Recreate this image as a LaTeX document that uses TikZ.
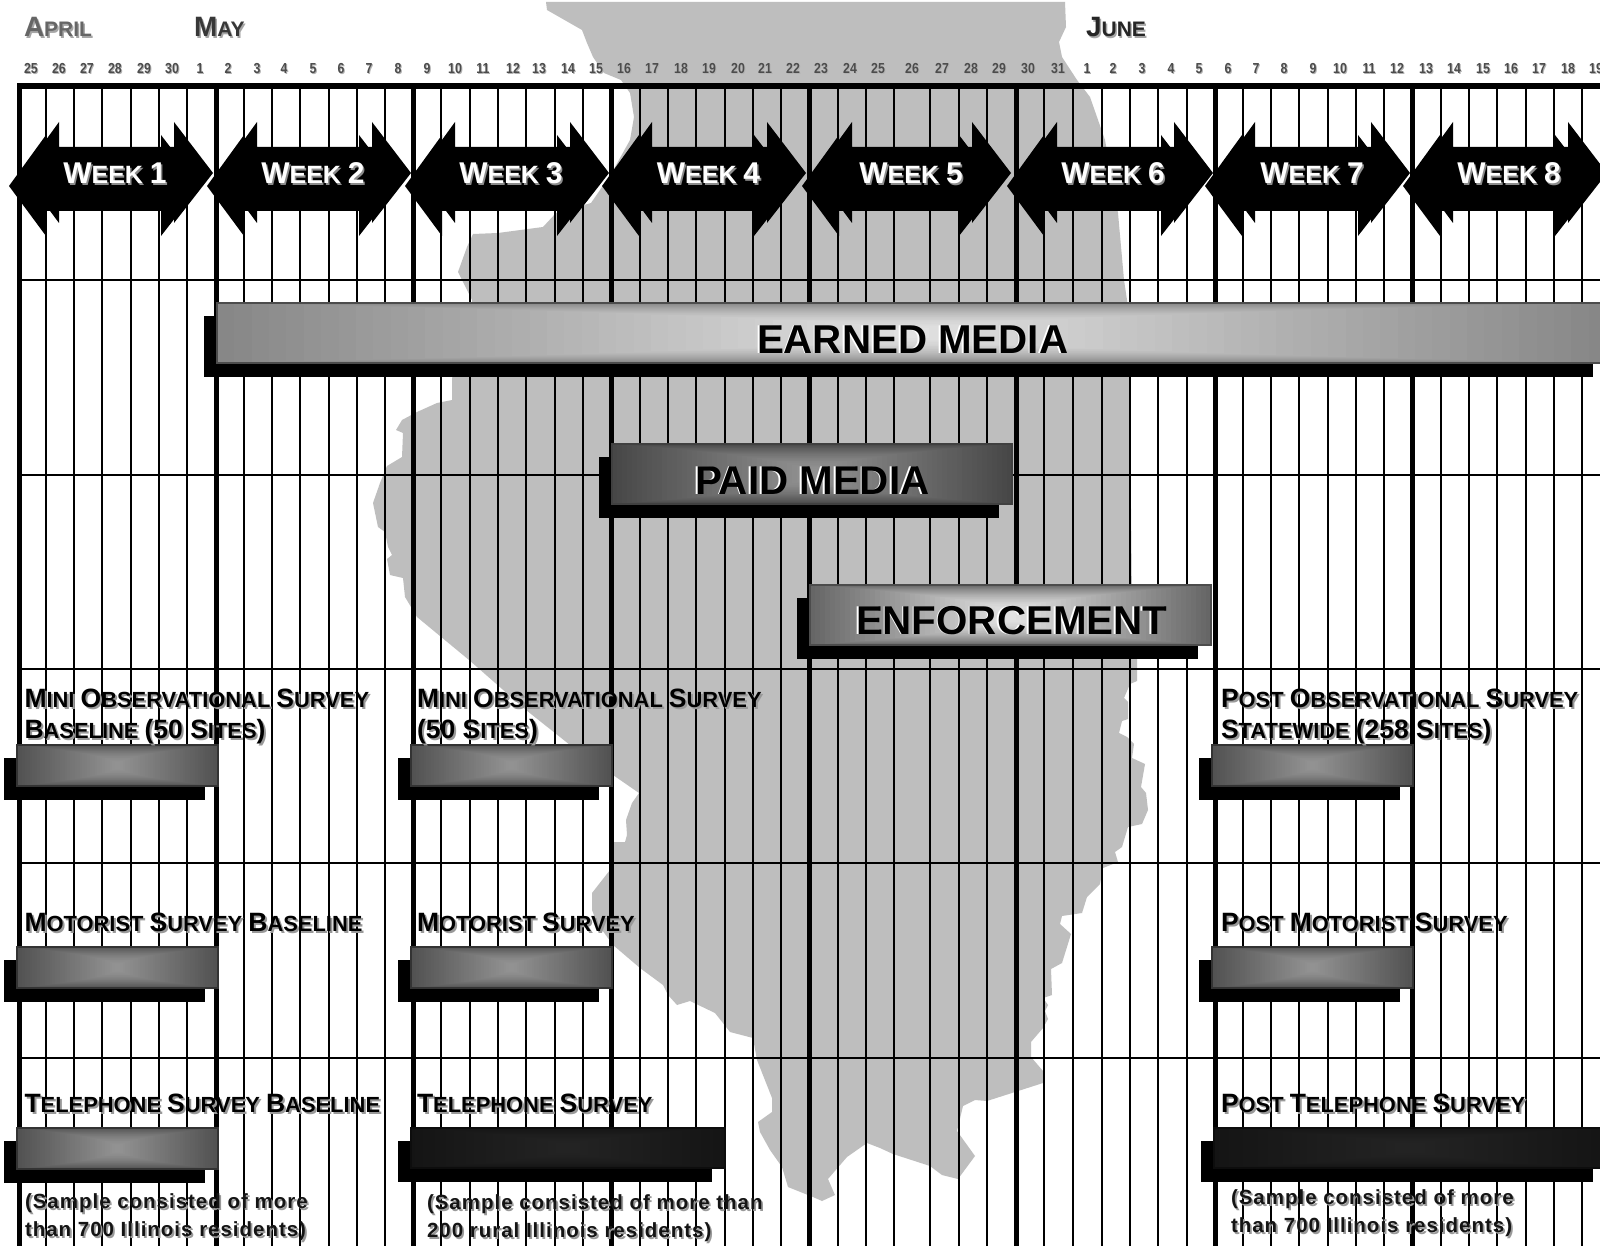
\documentclass[tikz,border=0pt]{standalone}
\usepackage{fontspec}
\setmainfont{Liberation Sans}
\newfontfamily\datefont[FakeStretch=0.85]{Liberation Sans Bold}
\definecolor{mapgray}{HTML}{BEBEBE}
\newcommand{\Ca}[1]{{\fontsize{26.5}{26}\selectfont #1}}
\newcommand{\Cb}[1]{{\fontsize{28}{28}\selectfont #1}}
\newcommand{\Cw}[1]{{\fontsize{30}{30}\selectfont #1}}
\tikzset{
  x=1pt,y=-1pt,
  thinline/.style={black,line width=1.8pt},
  thickline/.style={black,line width=5pt},
  base text/.style={anchor=base west,inner sep=0pt,outer sep=0pt},
  survey/.style={base text,font=\bfseries\fontsize{21.9}{26}\selectfont},
  sample/.style={base text,font=\bfseries\fontsize{20.5}{24}\selectfont\addfontfeature{LetterSpace=4.8}},
  month/.style={base text,font=\bfseries\fontsize{21}{28}\selectfont},
  weeklabel/.style={anchor=base,inner sep=0pt,font=\bfseries\fontsize{25}{30}\selectfont},
  headline/.style={base text,font=\bfseries\fontsize{40.3}{44}\selectfont},
  datelabel/.style={anchor=base,inner sep=0pt,font=\datefont\fontsize{14.5}{16}\selectfont},
}
% gradient bar with contours that run from the centre to the rim
\newcommand{\gbar}[6]{%
  \colorlet{gout}{#5}\colorlet{gin}{#6}%
  \foreach \gi in {0,...,40}{%
    \pgfmathsetmacro\gt{1-\gi/40}%
    \pgfmathsetmacro\gp{100*\gi/40}%
    \pgfmathsetmacro\gcx{(#1+#3)/2}%
    \pgfmathsetmacro\gcy{(#2+#4)/2}%
    \pgfmathsetmacro\ghw{(#3-#1)/2*\gt}%
    \pgfmathsetmacro\ghh{(#4-#2)/2*sqrt(\gt)}%
    \fill[gin!\gp!gout] (\gcx-\ghw,\gcy-\ghh) rectangle (\gcx+\ghw,\gcy+\ghh);
  }%
}
% shadow then bar: x1 y1 x2 y2 outer inner edge
\newcommand{\sbar}[7]{%
  \fill[black] ({#1-13.5},{#2+13}) rectangle ({#3-13.5},{#4+14});
  \gbar{#1}{#2}{#3}{#4}{#5}{#6}
  \draw[#7,line width=1.2pt] (#1,#2) rectangle (#3,#4);
}
\newcommand{\slab}[4]{% name, x, y, text
  \node[survey,text=black!40] (#1s) at ({#2+2},{#3+2.2}) {#4};
  \node[survey,text=black] (#1) at (#2,#3) {#4};
}
\newcommand{\tlab}[4]{%
  \node[sample,text=black!40] (#1s) at ({#2+1.8},{#3+2}) {#4};
  \node[sample,text=black!92] (#1) at (#2,#3) {#4};
}
\newcommand{\hlab}[4]{%
  \node[headline,text=white] (#1s) at ({#2-1.6},{#3+0.6}) {#4};
  \node[headline,text=black] (#1) at (#2,#3) {#4};
}
\newcommand{\mlab}[5]{% name x y textcolour text
  \node[month,text=black!35] (#1s) at ({#2+1.5},{#3+1.5}) {#5};
  \node[month,text=#4] (#1) at (#2,#3) {#5};
}
\begin{document}
\begin{tikzpicture}
\useasboundingbox (0,0) rectangle (1600,1246);
\clip (0,0) rectangle (1600,1246);
\fill[white] (0,0) rectangle (1600,1246);
% state map
\fill[mapgray] (546,2) -- (547,10) -- (582,30) -- (587,43) -- (593,57) -- (604,73) -- (621,80) -- (630,93) -- (634,117) -- (630,140) -- (615,167) -- (600,190) -- (591,203) -- (556,213) -- (543,227) -- (498,233) -- (473,234) -- (467,247) -- (458,272) -- (463,282) -- (472,300) -- (475,340)
 -- (452,378) -- (452,400) -- (437,403) -- (417,412) -- (402,420) -- (396,430) -- (403,433) -- (402,457) -- (387,466) -- (380,483) -- (373,503) -- (378,527) -- (385,532) -- (388,547) -- (392,555) -- (387,559) -- (390,575) -- (403,578) -- (405,597) -- (417,617) -- (469,660) -- (526,710) -- (570,745)
 -- (613,775) -- (639,793) -- (632,803) -- (626,820) -- (627,835) -- (625,842) -- (614,842) -- (610,870) -- (592,893) -- (592,910) -- (597,923) -- (613,945) -- (640,968) -- (663,985) -- (668,995) -- (677,1005) -- (690,1001) -- (715,1013) -- (730,1032) -- (753,1038) -- (757,1060) -- (772,1098) -- (772,1112) -- (758,1122) -- (760,1132) -- (770,1150) -- (782,1167) -- (788,1187) -- (813,1197) -- (822,1201) -- (835,1195) -- (828,1179) -- (847,1157) -- (867,1143) -- (880,1148) -- (893,1154) -- (930,1166) -- (942,1175) -- (958,1179)
 -- (975,1156) -- (957,1131) -- (963,1106) -- (975,1100) -- (987,1101) -- (1043,1083) -- (1043,1071) -- (1031,1057) -- (1031,1042) -- (1043,1028) -- (1048,1019) -- (1045,1011) -- (1048,1005) -- (1043,998) -- (1052,995) -- (1051,969) -- (1062,963) -- (1071,934) -- (1060,924) -- (1062,916) -- (1082,913) -- (1087,897) -- (1100,884) -- (1103,868) -- (1118,862) -- (1115,852) -- (1122,847) -- (1128,827) -- (1142,824) -- (1148,810) -- (1146,793) -- (1141,787) -- (1145,764) -- (1132,758) -- (1134,744) -- (1127,737) -- (1119,733) -- (1122,721) -- (1128,719) -- (1128,702) -- (1124,698) -- (1130,684) -- (1137,681) -- (1137,659) -- (1132,600) -- (1130,420) -- (1127,300) -- (1124,280) -- (1118,213) -- (1105,140) -- (1090,97) -- (1077,80) -- (1062,57) -- (1059,42) -- (1066,27) -- (1065,2) -- cycle;
% grid
\foreach \gx in {46,74,102,131,159,187,244,272,300,329,357,385,441,470,498,526,555,583,640,668,696,725,753,781,838,866,894,930,959,987,1044,1073,1102,1130,1158,1187,1243,1271,1299,1328,1356,1384,1441,1469,1497,1526,1554,1582}
  \draw[thinline] (\gx,86) -- (\gx,1246);
\foreach \gy in {280,475,669,863,1058}
  \draw[thinline] (20,\gy) -- (1600,\gy);
\foreach \gx in {19.5,216,413,611,809,1016,1215,1412}
  \draw[thickline] (\gx,86) -- (\gx,1246);
\fill[black] (17,83) rectangle (1600,89);
% week arrows: left head x, length
\foreach \L/\W in {59/115,257/115,455/115,652/115,852/120,1057/117,1255/116,1453/115}{
  \foreach \dx/\dy in {-13/13,0/0}{
    \fill[black] (\L-37+\dx,173+\dy) -- (\L+\dx,122+\dy) -- (\L+\dx,147+\dy) -- (\L+\W+\dx,147+\dy) -- (\L+\W+\dx,122+\dy) -- (\L+\W+39+\dx,173+\dy) -- (\L+\W+\dx,223+\dy) -- (\L+\W+\dx,198+\dy) -- (\L+\dx,198+\dy) -- (\L+\dx,223+\dy) -- cycle;
  }
}
\foreach \C/\w in {115/1,313/2,511/3,708.5/4,911/5,1113/6,1312/7,1509/8}{
  \node[weeklabel,text=black!45] (w\w s) at (\C+1.5,185.5) {\Cw{W}EEK \Cw{\w}};
  \node[weeklabel,text=white] (w\w) at (\C,184) {\Cw{W}EEK \Cw{\w}};
}
% bars
\sbar{217}{303}{1606}{363}{black!47}{black!11}{black!70}
\sbar{612}{444}{1012}{504}{black!72}{black!42}{black!75}
\sbar{810}{585}{1211}{645}{black!60}{black!10}{black!70}
\foreach \bx/\by in {17/745,411/745,1212/745,17/947,411/947,1212/947,17/1128}{
  \pgfmathsetmacro\bxx{\bx+201}\pgfmathsetmacro\byy{\by+41}
  \sbar{\bx}{\by}{\bxx}{\byy}{black!68}{black!42}{black!80}
}
\sbar{411}{1128}{725}{1168}{black!92}{black!86}{black!95}
\sbar{1214}{1128}{1606}{1168}{black!92}{black!86}{black!95}
% headline text
\hlab{earned}{757}{353}{EARNED MEDIA}
\hlab{paid}{695}{494}{PAID MEDIA}
\hlab{enforce}{856}{634}{ENFORCEMENT}
% survey labels
\slab{a1}{24.5}{707}{\Ca{M}INI \Ca{O}BSERVATIONAL \Ca{S}URVEY}
\slab{a2}{24.5}{738}{\Ca{B}ASELINE \Ca{(50 S}ITES\Ca{)}}
\slab{b1}{417}{707}{\Ca{M}INI \Ca{O}BSERVATIONAL \Ca{S}URVEY}
\slab{b2}{417}{738}{\Ca{(50 S}ITES\Ca{)}}
\slab{c1}{1221}{707}{\Ca{P}OST \Ca{O}BSERVATIONAL \Ca{S}URVEY}
\slab{c2}{1221}{738}{\Ca{S}TATEWIDE \Ca{(258 S}ITES\Ca{)}}
\slab{d1}{24.5}{931}{\Ca{M}OTORIST \Ca{S}URVEY \Ca{B}ASELINE}
\slab{d2}{417}{931}{\Ca{M}OTORIST \Ca{S}URVEY}
\slab{d3}{1221}{931}{\Ca{P}OST \Ca{M}OTORIST \Ca{S}URVEY}
\slab{e1}{24.5}{1112}{\Ca{T}ELEPHONE \Ca{S}URVEY \Ca{B}ASELINE}
\slab{e2}{417}{1112}{\Ca{T}ELEPHONE \Ca{S}URVEY}
\slab{e3}{1221}{1112}{\Ca{P}OST \Ca{T}ELEPHONE \Ca{S}URVEY}
% sample notes
\tlab{s1}{25}{1208}{(Sample consisted of more}
\tlab{s2}{25}{1236}{than 700 Illinois residents)}
\tlab{s3}{427}{1209}{(Sample consisted of more than}
\tlab{s4}{427}{1237}{200 rural Illinois residents)}
\tlab{s5}{1231}{1204}{(Sample consisted of more}
\tlab{s6}{1231}{1232}{than 700 Illinois residents)}
% months
\mlab{apr}{24}{37}{black!60}{\Cb{A}PRIL}
\mlab{may}{194}{37}{black!78}{\Cb{M}AY}
\mlab{jun}{1086}{37}{black!85}{\Cb{J}UNE}
% dates
\foreach \dx/\dt [count=\di] in {31/25,59/26,87/27,115/28,144/29,172/30,200/1,228/2,257/3,284/4,313/5,341/6,369/7,398/8,427/9,455/10,483/11,513/12,539/13,568/14,596/15,624/16,652/17,681/18,709/19,738/20,765/21,793/22,821/23,850/24,878/25,912/26,942/27,971/28,999/29,1028/30,1058/31,1087/1,1113/2,1142/3,1171/4,1199/5,1228/6,1256/7,1284/8,1313/9,1340/10,1369/11,1397/12,1426/13,1454/14,1483/15,1511/16,1539/17,1568/18,1596/19}{
  \node[datelabel,text=black!30] (ds\di) at (\dx+1,75) {\dt};
  \node[datelabel,text=black!70] (dd\di) at (\dx,74) {\dt};
}
\end{tikzpicture}
\end{document}
